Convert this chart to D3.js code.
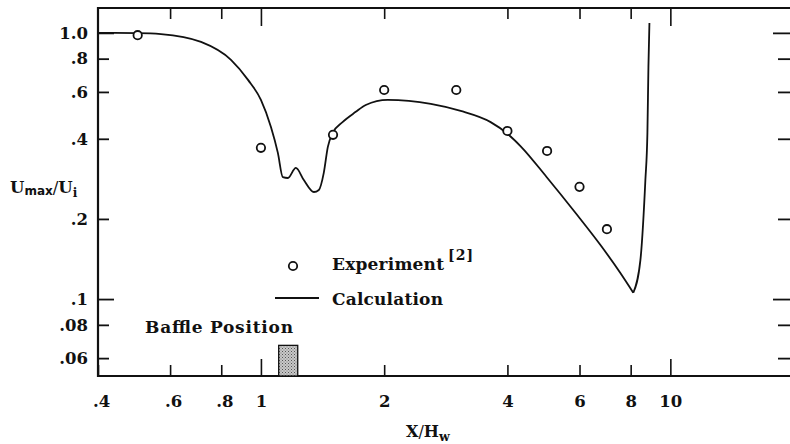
<!DOCTYPE html>
<html>
<head>
<meta charset="utf-8">
<script src="https://cdn.jsdelivr.net/npm/d3@7"></script>
<style>
  body { margin: 0; background: #fff; }
  svg { display: block; }
  text { font-family: "DejaVu Serif", "Liberation Serif", serif; font-weight: bold; fill: #111; }
</style>
</head>
<body>
<div id="chart"></div>
<script>
// Experiment points [2]
const expX = [0.5, 1.0, 1.5, 2.0, 3.0, 4.0, 5.0, 6.0, 7.0];
const expY = [0.98, 0.37, 0.414, 0.61, 0.61, 0.428, 0.36, 0.264, 0.183];

// Calculation curve (falls to a sharp minimum near X/Hw = 8.1, then shoots up)
const calcX = [0.4, 0.5, 0.57, 0.714, 0.845, 0.93, 1.0, 1.058, 1.10, 1.131, 1.164, 1.217, 1.273, 1.347, 1.385, 1.424, 1.457, 1.498, 1.585, 1.705, 1.803, 2.04, 2.6, 3.075, 3.64, 4.0, 4.31, 4.985, 5.87, 6.75, 7.55, 8.12, 8.45, 8.69, 8.79, 8.84, 8.89];
const calcY = [1.0, 0.998, 0.99, 0.925, 0.792, 0.666, 0.56, 0.443, 0.354, 0.287, 0.285, 0.311, 0.28, 0.2525, 0.257, 0.298, 0.373, 0.421, 0.463, 0.505, 0.536, 0.56, 0.541, 0.509, 0.462, 0.418, 0.375, 0.2875, 0.2105, 0.1596, 0.1253, 0.1056, 0.14, 0.28, 0.421, 0.745, 1.09];
const calcTip = 31;  // index of the minimum where the curve turns back up

// Axis ticks
const xTicks = [0.4, 0.6, 0.8, 1, 2, 4, 6, 8, 10];
const xTickLabels = ['.4', '.6', '.8', '1', '2', '4', '6', '8', '10'];
const yTicks = [1.0, 0.8, 0.6, 0.4, 0.2, 0.1, 0.08, 0.06];
const yTickLabels = ['1.0', '.8', '.6', '.4', '.2', '.1', '.08', '.06'];

// Baffle span along X/Hw and its height in U/Ui
const baffle = [1.105, 1.23];
const baffleTop = 0.067;

const width = 790;
const height = 444;
const plot = { left: 98, right: 790, top: 8, bottom: 376 };

const svg = d3.select('#chart')
    .append('svg')
    .attr('width', width)
    .attr('height', height);

svg.append('rect').attr('width', width).attr('height', height).attr('fill', '#fff');

const x = d3.scaleLog().domain([0.4, 19.6]).range([plot.left, plot.right]);
const y = d3.scaleLog().domain([1.24, 0.0514]).range([plot.top, plot.bottom]);

const isDecade = (v) => Math.abs(Math.log10(v) - Math.round(Math.log10(v))) < 1e-9;

// stipple for the baffle
const defs = svg.append('defs');
const pat = defs.append('pattern')
    .attr('id', 'stipple')
    .attr('width', 3).attr('height', 3)
    .attr('patternUnits', 'userSpaceOnUse');
pat.append('rect').attr('width', 3).attr('height', 3).attr('fill', '#c8c8c8');
pat.append('rect').attr('width', 1).attr('height', 1).attr('fill', '#555');
pat.append('rect').attr('x', 1.5).attr('y', 1.5).attr('width', 1).attr('height', 1).attr('fill', '#777');

// bottom axis
const xAxis = svg.append('g')
    .attr('transform', `translate(0, ${plot.bottom})`)
    .call(d3.axisBottom(x)
        .tickValues(xTicks)
        .tickSize(-11)
        .tickPadding(19)
        .tickFormat((d, i) => xTickLabels[i]));
xAxis.select('.domain').remove();
xAxis.selectAll('.tick line')
    .attr('y2', (d) => isDecade(d) ? -17 : -11)
    .attr('stroke', '#111').attr('stroke-width', 1.6);
xAxis.selectAll('.tick text')
    .attr('font-size', 16.5).attr('font-family', null)
    .attr('dx', (d) => d < 1 ? 3 : 0);

// top ticks
const topAxis = svg.append('g')
    .attr('transform', `translate(0, ${plot.top})`)
    .call(d3.axisTop(x).tickValues(xTicks.slice(1)).tickSize(-11).tickFormat(''));
topAxis.select('.domain').remove();
topAxis.selectAll('.tick line')
    .attr('y2', (d) => isDecade(d) ? 18 : 11)
    .attr('stroke', '#111').attr('stroke-width', 1.6);

// left axis
const yAxis = svg.append('g')
    .attr('transform', `translate(${plot.left}, 0)`)
    .call(d3.axisLeft(y)
        .tickValues(yTicks)
        .tickSize(-10)
        .tickPadding(10)
        .tickFormat((d, i) => yTickLabels[i]));
yAxis.select('.domain').remove();
yAxis.selectAll('.tick line')
    .attr('x2', (d) => isDecade(d) ? 16 : 11)
    .attr('stroke', '#111').attr('stroke-width', 1.8);
yAxis.selectAll('.tick text')
    .attr('font-size', 16.5).attr('font-family', null);

// right ticks (no axis line)
const rightAxis = svg.append('g')
    .attr('transform', `translate(${plot.right}, 0)`)
    .call(d3.axisRight(y).tickValues(yTicks).tickSize(-12).tickFormat(''));
rightAxis.select('.domain').remove();
rightAxis.selectAll('.tick line')
    .attr('x2', (d) => isDecade(d) ? -17 : -12)
    .attr('stroke', '#111').attr('stroke-width', 1.8);

// frame lines: left, top, bottom
svg.append('path')
    .attr('d', `M${plot.right},${plot.top}H${plot.left}V${plot.bottom}H${plot.right}`)
    .attr('fill', 'none')
    .attr('stroke', '#111')
    .attr('stroke-width', 2.2);

// baffle
svg.append('rect')
    .attr('x', x(baffle[0]))
    .attr('y', y(baffleTop))
    .attr('width', x(baffle[1]) - x(baffle[0]))
    .attr('height', plot.bottom - y(baffleTop))
    .attr('fill', 'url(#stipple)')
    .attr('stroke', '#111')
    .attr('stroke-width', 1.3);

svg.append('text')
    .attr('x', 145).attr('y', 333)
    .attr('font-size', 17)
    .attr('textLength', 148).attr('lengthAdjust', 'spacing')
    .text('Baffle Position');

// calculation curve, drawn as two branches meeting at the sharp minimum
const calc = calcX.map((v, i) => ({ x: v, y: calcY[i] }));
const line = d3.line()
    .x((d) => x(d.x))
    .y((d) => y(d.y))
    .curve(d3.curveMonotoneX);

svg.append('g')
    .selectAll('path')
    .data([calc.slice(0, calcTip + 1), calc.slice(calcTip)])
    .join('path')
    .attr('d', line)
    .attr('fill', 'none')
    .attr('stroke', '#111')
    .attr('stroke-width', 1.8)
    .attr('stroke-linejoin', 'round');

// experiment points
const exp = expX.map((v, i) => ({ x: v, y: expY[i] }));
svg.append('g')
    .selectAll('circle')
    .data(exp)
    .join('circle')
    .attr('cx', (d) => x(d.x))
    .attr('cy', (d) => y(d.y))
    .attr('r', 4.2)
    .attr('fill', '#fff')
    .attr('stroke', '#111')
    .attr('stroke-width', 1.8);

// legend
svg.append('circle')
    .attr('cx', 293).attr('cy', 266).attr('r', 4.2)
    .attr('fill', '#fff').attr('stroke', '#111').attr('stroke-width', 1.8);
svg.append('text')
    .attr('x', 332).attr('y', 270)
    .attr('font-size', 17)
    .attr('textLength', 112).attr('lengthAdjust', 'spacing')
    .text('Experiment');
svg.append('text')
    .attr('x', 448).attr('y', 260)
    .attr('font-size', 14)
    .attr('textLength', 25).attr('lengthAdjust', 'spacing')
    .text('[2]');
svg.append('line')
    .attr('x1', 275).attr('x2', 319)
    .attr('y1', 298).attr('y2', 298)
    .attr('stroke', '#111').attr('stroke-width', 1.8);
svg.append('text')
    .attr('x', 332).attr('y', 305)
    .attr('font-size', 17)
    .attr('textLength', 111).attr('lengthAdjust', 'spacing')
    .text('Calculation');

// axis titles
const yTitle = svg.append('text')
    .attr('x', 10).attr('y', 193)
    .attr('font-size', 16.5);
yTitle.append('tspan').text('U');
yTitle.append('tspan').attr('font-size', 12).attr('dy', 2).attr('font-family', 'DejaVu Sans').text('max');
yTitle.append('tspan').attr('dy', -2).attr('font-weight', 'normal').text('/');
yTitle.append('tspan').text('U');
yTitle.append('tspan').attr('font-size', 12).attr('dy', 4).text('i');

const xTitle = svg.append('text')
    .attr('x', 406).attr('y', 437)
    .attr('font-size', 16);
xTitle.append('tspan').text('X');
xTitle.append('tspan').attr('font-weight', 'normal').text('/');
xTitle.append('tspan').text('H');
xTitle.append('tspan').attr('font-size', 12.5).attr('dy', 4).text('w');
</script>
</body>
</html>
